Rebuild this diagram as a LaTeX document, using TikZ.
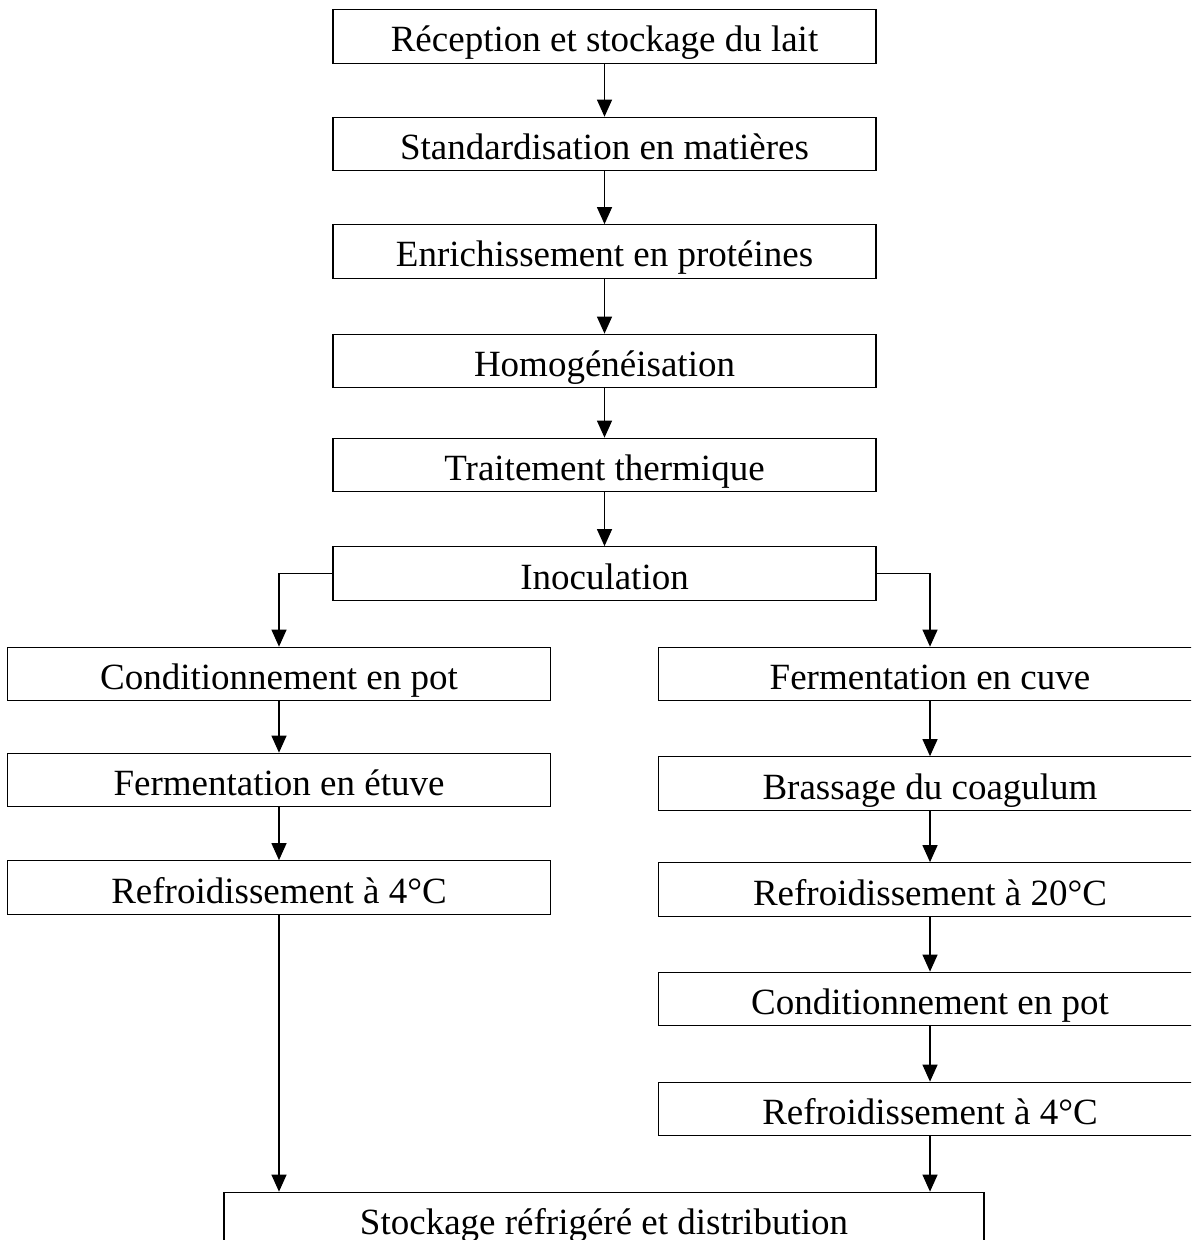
\documentclass[tikz,border=0pt]{standalone}
\usepackage{fontspec}
\setmainfont{Liberation Serif}
\usetikzlibrary{arrows.meta, calc, positioning}

\begin{document}
\begin{tikzpicture}[x=0.5pt, y=-0.5pt, line width=0.6pt,
                    box/.style={draw, inner sep=0pt, minimum width=271.5pt, minimum height=26.75pt,
                                text height=15.5pt, text depth=0pt, font=\fontsize{18.5}{20}\selectfont},
                    >={Triangle[length=8.5pt, width=7.5pt]}]
                    \clip (0, 0) rectangle (1191, 1240);

                    % tronc commun
                    \node[box] (rec) at (604.5, 36.5) {Réception et stockage du lait};
                    \node[box] (std) at (604.5, 144) {Standardisation en matières};
                    \node[box] (enr) at (604.5, 251.5) {Enrichissement en protéines};
                    \node[box] (hom) at (604.5, 361) {Homogénéisation};
                    \node[box] (trt) at (604.5, 465) {Traitement thermique};
                    \node[box] (ino) at (604.5, 573.5) {Inoculation};

                    % yaourt ferme
                    \node[box] (l1) at (279, 674) {Conditionnement en pot};
                    \node[box] (l2) at (279, 780) {Fermentation en étuve};
                    \node[box] (l3) at (279, 887.5) {Refroidissement à 4°C};

                    % yaourt brassé
                    \node[box] (r1) at (930, 674) {Fermentation en cuve};
                    \node[box] (r2) at (930, 783.5) {Brassage du coagulum};
                    \node[box] (r3) at (930, 889.5) {Refroidissement à 20°C};
                    \node[box] (r4) at (930, 999) {Conditionnement en pot};
                    \node[box] (r5) at (930, 1109) {Refroidissement à 4°C};

                    \node[box, minimum width=380pt] (sto) at (604, 1219) {Stockage réfrigéré et distribution};

                    \draw
                    (rec) edge[->] (std)
                    (std) edge[->] (enr)
                    (enr) edge[->] (hom)
                    (hom) edge[->] (trt)
                    (trt) edge[->] (ino)
                    (l1) edge[->] (l2)
                    (l2) edge[->] (l3)
                    (r1) edge[->] (r2)
                    (r2) edge[->] (r3)
                    (r3) edge[->] (r4)
                    (r4) edge[->] (r5);

                    \draw[->] (ino.west) -| (l1.north);
                    \draw[->] (ino.east) -| (r1.north);
                    \draw[->] (l3.south) -- (l3.south |- sto.north);
                    \draw[->] (r5.south) -- (r5.south |- sto.north);
                \end{tikzpicture}
\end{document}
